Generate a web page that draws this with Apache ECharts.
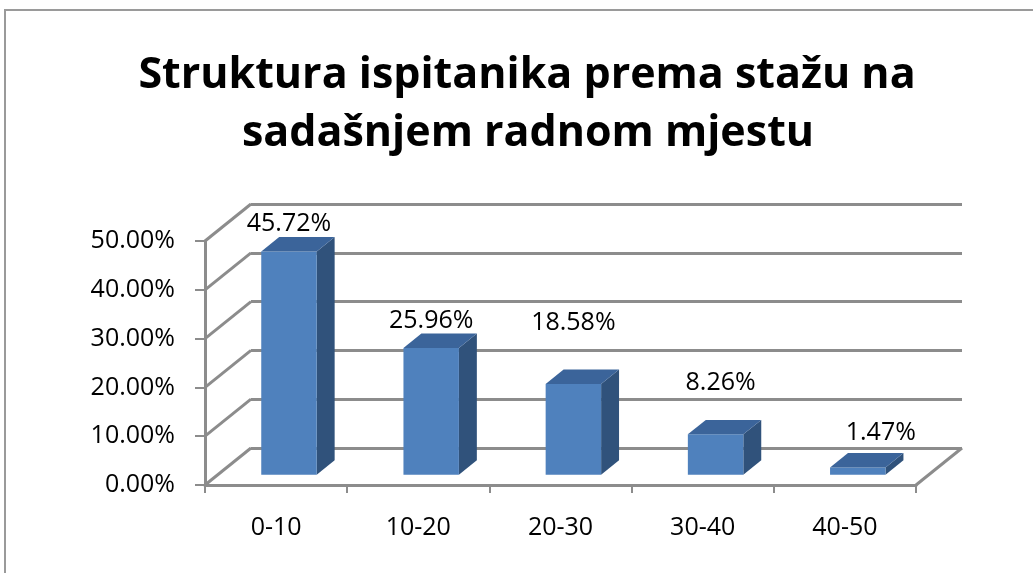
<!DOCTYPE html>
<html>
<head>
<meta charset="utf-8">
<style>
html, body { margin: 0; height: 100%; background: #fff; }
#chart { width: 1033px; height: 573px; }
</style>
</head>
<body>
<div id="chart"></div>
<script src="https://cdn.jsdelivr.net/npm/echarts@6/dist/echarts.min.js"></script>
<script>
// data
var categories = ['0-10', '10-20', '20-30', '30-40', '40-50'];
var shares = [0.4572, 0.2596, 0.1858, 0.0826, 0.0147];
var tickValues = [0, 0.1, 0.2, 0.3, 0.4, 0.5];
var titleLines = ['Struktura ispitanika prema stažu na', 'sadašnjem radnom mjestu'];

// label placement tweaks (px), Excel puts 3D labels a bit unevenly
var labelLift = [28, 27, 61, 51, 35];
var labelShift = [0, 0, 0, 5, 23];

var DX = 46, DY = -37;      // depth offset of the back wall
var T0 = 0.28, T1 = 0.67;   // bar front / back depth
var LINE = '#8c8c8c';
var FONT = '"Open Sans", sans-serif';

function pct(v) { return (v * 100).toFixed(2) + '%'; }

var chart = echarts.init(document.getElementById('chart'));

function renderBar(params, api) {
    var i = api.value(0), v = api.value(1);
    var base = api.coord([i, 0]);
    var top = api.coord([i, v]);
    var w = api.size([1, 0])[0] * 0.39;
    var ddx = DX * (T1 - T0), ddy = DY * (T1 - T0);
    var xL = base[0] - w / 2 + DX * T0, xR = xL + w;
    var yB = base[1] + DY * T0, yT = top[1] + DY * T0;
    return {
        type: 'group',
        children: [
            { type: 'polygon', shape: { points: [[xR, yB], [xR, yT], [xR + ddx, yT + ddy], [xR + ddx, yB + ddy]] },
              style: { fill: '#30527b' } },
            { type: 'rect', shape: { x: xL, y: yT, width: w, height: yB - yT },
              style: { fill: '#4f81bd' } },
            { type: 'polygon', shape: { points: [[xL, yT], [xR, yT], [xR + ddx, yT + ddy], [xL + ddx, yT + ddy]] },
              style: { fill: '#3b649a' } },
            { type: 'text', style: { text: pct(v), x: (xL + xR) / 2 + labelShift[i], y: yT - labelLift[i],
              align: 'center', verticalAlign: 'middle', font: '25px ' + FONT, fill: '#000' } }
        ]
    };
}

// diagonals of the left wall
function renderWall(params, api) {
    var y = api.coord([0, api.value(0)])[1];
    var x = params.coordSys.x;
    return { type: 'line', shape: { x1: x, y1: y, x2: x + DX, y2: y + DY },
             style: { stroke: LINE, lineWidth: 3 } };
}

// right edge of the floor
function renderFloor(params, api) {
    var cs = params.coordSys;
    var y = api.coord([0, 0])[1];
    var x = cs.x + cs.width;
    return { type: 'line', shape: { x1: x, y1: y, x2: x + DX, y2: y + DY },
             style: { stroke: LINE, lineWidth: 3 } };
}

var option = {
    animation: false,
    graphic: [
        { type: 'rect', shape: { x: 5, y: 10, width: 1040, height: 580 },
          style: { fill: 'none', stroke: '#9a9a9a', lineWidth: 2 } },
        { type: 'text', x: 527, y: 76, style: { text: titleLines[0], font: 'bold 43px ' + FONT,
          textAlign: 'center', textVerticalAlign: 'middle', fill: '#000' } },
        { type: 'text', x: 528, y: 134, style: { text: titleLines[1], font: 'bold 43px ' + FONT,
          textAlign: 'center', textVerticalAlign: 'middle', fill: '#000' } }
    ],
    grid: [
        { left: 205, top: 241, width: 711, height: 244 },
        { left: 205 + DX, top: 241 + DY, width: 711, height: 244 }
    ],
    xAxis: [
        { type: 'category', gridIndex: 0, data: categories,
          axisLine: { lineStyle: { color: LINE, width: 3 } },
          axisTick: { show: true, length: 8, lineStyle: { color: LINE, width: 2 } },
          axisLabel: { fontFamily: FONT, fontSize: 25, color: '#000', margin: 30 } },
        { type: 'category', gridIndex: 1, data: categories, show: false }
    ],
    yAxis: [
        { type: 'value', gridIndex: 0, min: 0, max: 0.5, interval: 0.1,
          axisLine: { show: true, lineStyle: { color: LINE, width: 3 } },
          axisTick: { show: true, length: 10, lineStyle: { color: LINE, width: 2 } },
          splitLine: { show: false },
          axisLabel: { formatter: pct, fontFamily: FONT, fontSize: 25, color: '#000', margin: 30 } },
        { type: 'value', gridIndex: 1, min: 0, max: 0.5, interval: 0.1,
          axisLine: { show: false }, axisTick: { show: false }, axisLabel: { show: false },
          splitLine: { show: true, lineStyle: { color: LINE, width: 3 } } }
    ],
    series: [
        { type: 'custom', xAxisIndex: 0, yAxisIndex: 0, renderItem: renderWall,
          data: tickValues.map(function (v) { return [v]; }), encode: { y: 0 }, silent: true },
        { type: 'custom', xAxisIndex: 0, yAxisIndex: 0, renderItem: renderFloor,
          data: [[0]], silent: true },
        { type: 'custom', xAxisIndex: 0, yAxisIndex: 0, renderItem: renderBar,
          data: shares.map(function (v, i) { return [i, v]; }), encode: { x: 0, y: 1 } }
    ]
};
chart.setOption(option);
</script>
</body>
</html>
